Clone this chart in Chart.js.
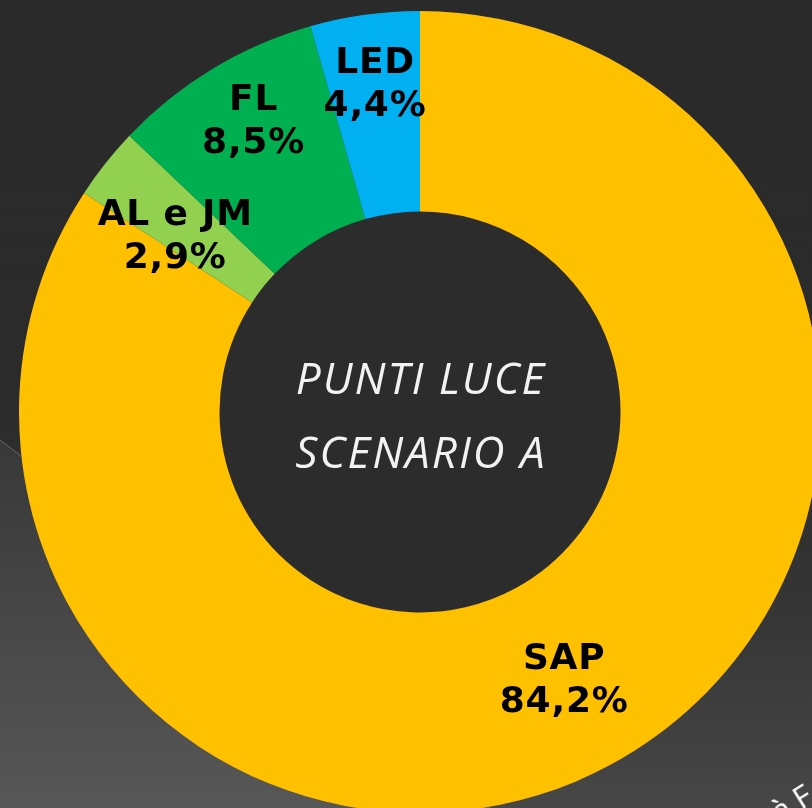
<!DOCTYPE html>
<html lang="it">
<head>
<meta charset="utf-8">
<title>Punti luce - Scenario A</title>
<script src="https://cdn.jsdelivr.net/npm/chart.js@4.4.1/dist/chart.umd.min.js"></script>
<style>
  html, body {
    margin: 0; padding: 0; width: 812px; height: 808px; overflow: hidden;
    background: linear-gradient(to bottom, #2a2a2a 0%, #2b2b2b 50%, #353535 75%, #474747 100%);
  }
  #bg { position: absolute; left: 0; top: 0; }
  #chart { position: absolute; left: 19px; top: 11px; }
  #corner {
    position: absolute; left: 782px; top: 796px; white-space: nowrap;
    font-family: "Open Sans", sans-serif; font-size: 31px; color: #ffffff;
    transform-origin: 0 100%; transform: rotate(-32deg); line-height: 31px;
  }
</style>
</head>
<body>
<svg id="bg" width="812" height="808">
  <defs>
    <linearGradient id="panel" x1="0" y1="440" x2="0" y2="808" gradientUnits="userSpaceOnUse">
      <stop offset="0" stop-color="#383838"/>
      <stop offset="1" stop-color="#575757"/>
    </linearGradient>
  </defs>
  <polygon points="0,440 490,808 0,808" fill="url(#panel)"/>
  <line x1="0" y1="440" x2="490" y2="808" stroke="#666666" stroke-width="1"/>
</svg>
<canvas id="chart" width="802" height="802"></canvas>
<div id="corner">à F</div>
<script>
// Lighting points by lamp technology (share of total, %)
const categories = ['SAP', 'AL e JM', 'FL', 'LED'];
const shares = [84.2, 2.9, 8.5, 4.4];
const sliceColors = ['#FFC000', '#92D050', '#00B050', '#00B0F0'];
const centerTitle = ['PUNTI LUCE', 'SCENARIO A'];

// Where each slice label sits: fraction along the arc, fraction across the ring
const labelPlacement = [
  { along: 0.50, depth: 0.51 },
  { along: 0.28, depth: 0.51 },
  { along: 0.55, depth: 0.68 },
  { along: 0.51, depth: 0.66 }
];

const formatShare = v => v.toFixed(1).replace('.', ',') + '%';

// Dark disc filling the doughnut hole
const holeFill = {
  id: 'holeFill',
  beforeDatasetsDraw(chart) {
    const arc = chart.getDatasetMeta(0).data[0];
    if (!arc) return;
    const { x, y, innerRadius } = arc.getProps(['x', 'y', 'innerRadius'], true);
    const ctx = chart.ctx;
    ctx.save();
    ctx.fillStyle = '#2c2c2c';
    ctx.beginPath();
    ctx.arc(x, y, innerRadius + 1, 0, Math.PI * 2);
    ctx.fill();
    ctx.restore();
  }
};

const sliceLabels = {
  id: 'sliceLabels',
  afterDatasetsDraw(chart) {
    const ctx = chart.ctx;
    const meta = chart.getDatasetMeta(0);
    ctx.save();
    ctx.fillStyle = '#000000';
    ctx.textAlign = 'center';
    ctx.textBaseline = 'alphabetic';
    ctx.font = 'bold 36px "DejaVu Sans", Verdana, sans-serif';
    if ('letterSpacing' in ctx) ctx.letterSpacing = '0.8px';
    meta.data.forEach((arc, i) => {
      const p = arc.getProps(['x', 'y', 'startAngle', 'endAngle', 'innerRadius', 'outerRadius'], true);
      const place = labelPlacement[i];
      const a = p.startAngle + (p.endAngle - p.startAngle) * place.along;
      const r = p.innerRadius + (p.outerRadius - p.innerRadius) * place.depth;
      const cx = p.x + Math.cos(a) * r;
      const cy = p.y + Math.sin(a) * r;
      ctx.fillText(categories[i], cx, cy - 9);
      ctx.fillText(formatShare(shares[i]), cx, cy + 34);
    });
    ctx.restore();
  }
};

const centerText = {
  id: 'centerText',
  afterDraw(chart) {
    const ctx = chart.ctx;
    const arc = chart.getDatasetMeta(0).data[0];
    const { x, y } = arc.getProps(['x', 'y'], true);
    ctx.save();
    ctx.fillStyle = '#f2f2f2';
    ctx.textAlign = 'center';
    ctx.textBaseline = 'alphabetic';
    ctx.font = 'italic 400 44px "Open Sans", sans-serif';
    if ('letterSpacing' in ctx) ctx.letterSpacing = '2px';
    ctx.fillText(centerTitle[0], x + 1, y - 18);
    ctx.fillText(centerTitle[1], x + 1, y + 56);
    ctx.restore();
  }
};

new Chart(document.getElementById('chart'), {
  type: 'doughnut',
  data: {
    labels: categories,
    datasets: [{
      data: shares,
      backgroundColor: sliceColors,
      borderWidth: 0
    }]
  },
  options: {
    responsive: false,
    animation: false,
    cutout: '50%',
    layout: { padding: 0 },
    plugins: {
      legend: { display: false },
      tooltip: { enabled: false }
    }
  },
  plugins: [holeFill, sliceLabels, centerText]
});
</script>
</body>
</html>
